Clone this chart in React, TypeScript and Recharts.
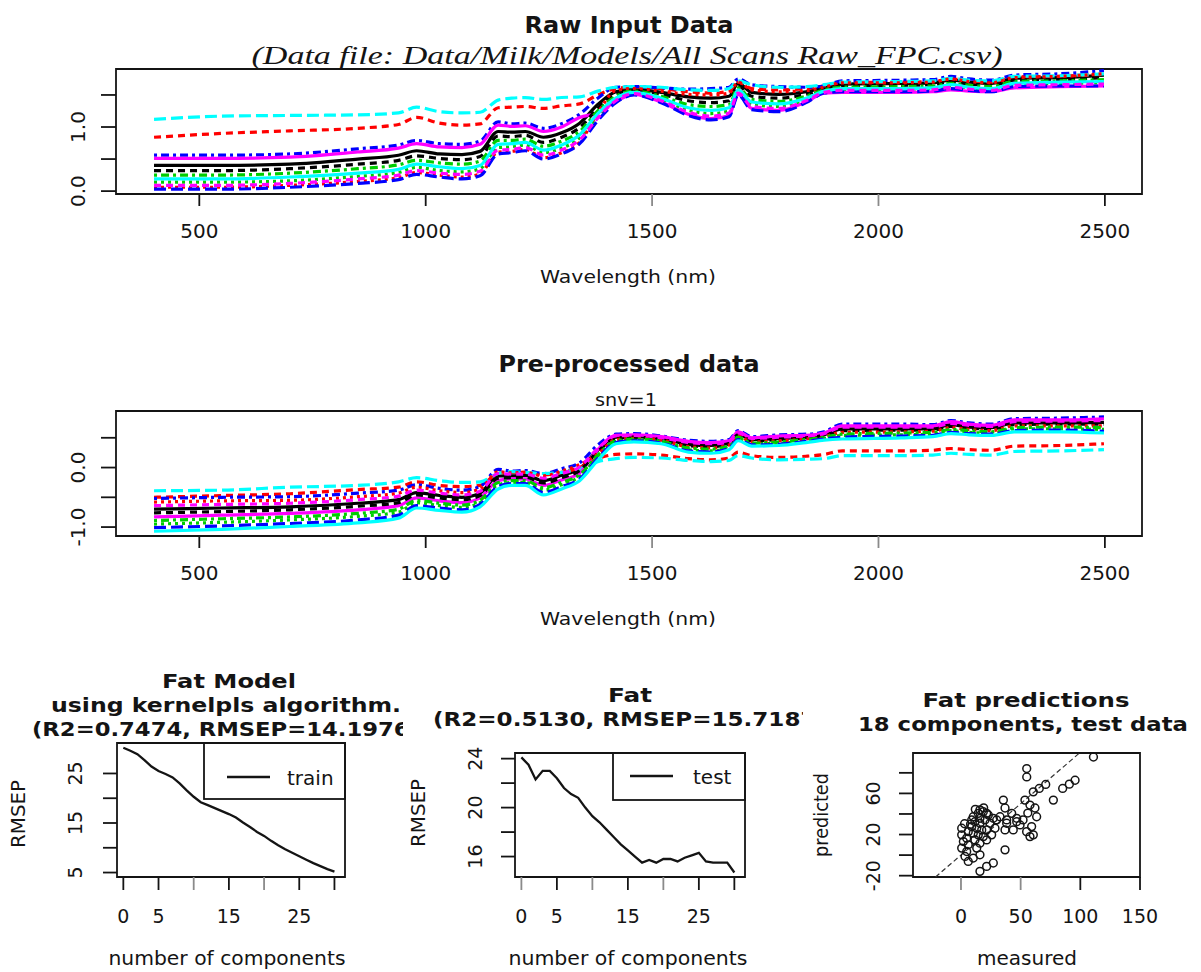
import React from "react";
import {
  LineChart,
  Line,
  XAxis,
  YAxis,
  ReferenceArea,
  ReferenceLine,
  ScatterChart,
  Scatter,
} from "recharts";

// wavelength grid (nm) shared by both spectra panels
const wavelengths = [
  400, 550, 700, 850, 940, 980, 1030, 1080, 1120, 1160, 1190, 1220, 1260, 1300, 1340, 1380, 1420, 1460,
  1520, 1580, 1630, 1670, 1690, 1720, 1780, 1840, 1880, 1920, 2050, 2120, 2160, 2200, 2250, 2300, 2400, 2498,
];
const wavelengthTicks = [500, 1000, 1500, 2000, 2500];

// raw scans
const rawS1 = [0.40, 0.40, 0.42, 0.50, 0.56, 0.63, 0.58, 0.57, 0.62, 0.93, 0.92, 0.93, 0.84, 0.91, 1.06, 1.35, 1.55, 1.59, 1.54, 1.47, 1.45, 1.48, 1.68, 1.54, 1.51, 1.55, 1.61, 1.67, 1.68, 1.69, 1.73, 1.70, 1.68, 1.76, 1.77, 1.81];
const rawS2 = [0.84, 0.90, 0.94, 0.98, 1.04, 1.15, 1.06, 1.03, 1.05, 1.30, 1.31, 1.32, 1.29, 1.33, 1.36, 1.50, 1.60, 1.62, 1.60, 1.55, 1.53, 1.56, 1.70, 1.60, 1.58, 1.60, 1.64, 1.69, 1.70, 1.71, 1.75, 1.72, 1.70, 1.78, 1.79, 1.82];
const rawS3 = [0.14, 0.14, 0.16, 0.23, 0.29, 0.37, 0.32, 0.30, 0.35, 0.68, 0.69, 0.72, 0.60, 0.67, 0.83, 1.17, 1.43, 1.53, 1.43, 1.26, 1.21, 1.25, 1.55, 1.35, 1.32, 1.43, 1.55, 1.58, 1.59, 1.60, 1.64, 1.61, 1.59, 1.67, 1.68, 1.69];
const rawS4 = [0.56, 0.56, 0.58, 0.66, 0.72, 0.79, 0.74, 0.73, 0.78, 1.08, 1.05, 1.06, 0.98, 1.05, 1.20, 1.45, 1.62, 1.63, 1.61, 1.59, 1.60, 1.62, 1.75, 1.66, 1.63, 1.62, 1.64, 1.72, 1.73, 1.74, 1.79, 1.75, 1.73, 1.81, 1.83, 1.88];
const rawS5 = [1.12, 1.17, 1.18, 1.19, 1.22, 1.31, 1.24, 1.22, 1.23, 1.42, 1.45, 1.46, 1.43, 1.46, 1.47, 1.56, 1.62, 1.63, 1.62, 1.58, 1.57, 1.60, 1.72, 1.66, 1.62, 1.63, 1.66, 1.70, 1.71, 1.72, 1.76, 1.73, 1.72, 1.79, 1.80, 1.83];
const rawS6 = [0.51, 0.51, 0.53, 0.61, 0.67, 0.74, 0.69, 0.68, 0.73, 1.03, 1.01, 1.02, 0.93, 1.00, 1.15, 1.22, 1.40, 1.51, 1.39, 1.20, 1.13, 1.18, 1.51, 1.29, 1.26, 1.39, 1.53, 1.54, 1.54, 1.55, 1.58, 1.56, 1.55, 1.61, 1.63, 1.64];
const rawS7 = [0.32, 0.32, 0.35, 0.42, 0.48, 0.55, 0.51, 0.49, 0.54, 0.86, 0.85, 0.87, 0.76, 0.84, 0.99, 1.29, 1.51, 1.57, 1.51, 1.41, 1.38, 1.41, 1.64, 1.48, 1.45, 1.51, 1.59, 1.64, 1.65, 1.66, 1.70, 1.67, 1.65, 1.73, 1.74, 1.77];
const rawS8 = [0.06, 0.06, 0.09, 0.15, 0.21, 0.29, 0.25, 0.22, 0.27, 0.61, 0.62, 0.65, 0.52, 0.60, 0.76, 1.22, 1.57, 1.60, 1.56, 1.51, 1.50, 1.53, 1.70, 1.58, 1.55, 1.57, 1.62, 1.69, 1.69, 1.70, 1.75, 1.71, 1.69, 1.77, 1.79, 1.83];
const rawS9 = [0.25, 0.25, 0.28, 0.35, 0.41, 0.48, 0.44, 0.42, 0.47, 0.79, 0.79, 0.81, 0.70, 0.78, 0.93, 1.25, 1.48, 1.56, 1.48, 1.35, 1.32, 1.35, 1.61, 1.43, 1.40, 1.48, 1.58, 1.62, 1.63, 1.64, 1.68, 1.65, 1.63, 1.71, 1.72, 1.74];
const rawS10 = [0.03, 0.03, 0.06, 0.12, 0.18, 0.26, 0.22, 0.19, 0.24, 0.58, 0.60, 0.63, 0.50, 0.58, 0.74, 1.10, 1.38, 1.50, 1.38, 1.18, 1.11, 1.16, 1.50, 1.27, 1.24, 1.38, 1.53, 1.55, 1.55, 1.56, 1.60, 1.57, 1.55, 1.63, 1.64, 1.64];
const rawS11 = [0.19, 0.19, 0.22, 0.28, 0.34, 0.42, 0.38, 0.35, 0.40, 0.73, 0.74, 0.76, 0.64, 0.72, 0.88, 1.21, 1.45, 1.54, 1.45, 1.30, 1.26, 1.30, 1.58, 1.39, 1.36, 1.45, 1.56, 1.60, 1.60, 1.61, 1.66, 1.62, 1.60, 1.68, 1.70, 1.71];
const rawS12 = [0.09, 0.09, 0.12, 0.19, 0.25, 0.32, 0.28, 0.26, 0.31, 0.64, 0.65, 0.68, 0.56, 0.64, 0.80, 1.14, 1.41, 1.52, 1.41, 1.23, 1.17, 1.22, 1.53, 1.32, 1.29, 1.41, 1.54, 1.57, 1.57, 1.58, 1.62, 1.59, 1.57, 1.65, 1.66, 1.67];

// the same scans after snv
const snvS1 = [-0.70, -0.68, -0.66, -0.60, -0.54, -0.42, -0.47, -0.50, -0.43, -0.14, -0.14, -0.13, -0.22, -0.13, -0.02, 0.29, 0.51, 0.52, 0.49, 0.39, 0.37, 0.41, 0.56, 0.47, 0.49, 0.51, 0.55, 0.65, 0.65, 0.65, 0.72, 0.68, 0.67, 0.75, 0.75, 0.76];
const snvS2 = [-0.50, -0.47, -0.44, -0.37, -0.33, -0.24, -0.30, -0.32, -0.30, -0.10, -0.08, -0.08, -0.12, -0.08, 0.00, 0.15, 0.22, 0.23, 0.21, 0.15, 0.13, 0.16, 0.26, 0.20, 0.17, 0.19, 0.22, 0.28, 0.28, 0.29, 0.32, 0.30, 0.29, 0.36, 0.37, 0.40];
const snvS3 = [-0.95, -0.92, -0.88, -0.82, -0.75, -0.59, -0.64, -0.67, -0.59, -0.29, -0.25, -0.25, -0.38, -0.29, -0.15, 0.18, 0.44, 0.46, 0.43, 0.30, 0.28, 0.34, 0.49, 0.40, 0.41, 0.45, 0.49, 0.54, 0.55, 0.56, 0.62, 0.59, 0.58, 0.65, 0.65, 0.64];
const snvS4 = [-0.52, -0.50, -0.49, -0.43, -0.38, -0.29, -0.35, -0.38, -0.32, -0.03, -0.06, -0.05, -0.10, -0.02, 0.08, 0.38, 0.56, 0.57, 0.53, 0.46, 0.44, 0.47, 0.62, 0.52, 0.55, 0.56, 0.60, 0.73, 0.73, 0.72, 0.79, 0.75, 0.73, 0.82, 0.83, 0.85];
const snvS5 = [-0.39, -0.38, -0.33, -0.30, -0.24, -0.17, -0.22, -0.25, -0.24, -0.10, -0.07, -0.08, -0.10, -0.08, -0.02, 0.10, 0.15, 0.17, 0.16, 0.12, 0.10, 0.12, 0.20, 0.16, 0.13, 0.14, 0.15, 0.20, 0.20, 0.21, 0.24, 0.22, 0.21, 0.27, 0.28, 0.30];
const snvS6 = [-0.83, -0.80, -0.77, -0.71, -0.64, -0.51, -0.56, -0.59, -0.51, -0.22, -0.19, -0.19, -0.30, -0.21, -0.09, 0.30, 0.54, 0.55, 0.52, 0.44, 0.42, 0.45, 0.60, 0.50, 0.53, 0.54, 0.58, 0.70, 0.70, 0.70, 0.77, 0.73, 0.71, 0.80, 0.80, 0.82];
const snvS7 = [-0.76, -0.74, -0.71, -0.65, -0.59, -0.46, -0.51, -0.54, -0.47, -0.18, -0.17, -0.16, -0.26, -0.17, -0.05, 0.27, 0.49, 0.51, 0.47, 0.37, 0.35, 0.40, 0.55, 0.45, 0.47, 0.50, 0.54, 0.62, 0.63, 0.63, 0.69, 0.66, 0.65, 0.72, 0.73, 0.73];
const snvS8 = [-0.58, -0.56, -0.55, -0.49, -0.43, -0.33, -0.39, -0.42, -0.36, -0.07, -0.09, -0.08, -0.14, -0.06, 0.05, 0.23, 0.47, 0.49, 0.46, 0.35, 0.33, 0.38, 0.53, 0.43, 0.45, 0.48, 0.52, 0.59, 0.60, 0.61, 0.67, 0.64, 0.62, 0.70, 0.70, 0.70];
const snvS9 = [-0.89, -0.86, -0.83, -0.77, -0.70, -0.55, -0.60, -0.63, -0.55, -0.25, -0.22, -0.22, -0.34, -0.25, -0.12, 0.21, 0.45, 0.48, 0.44, 0.33, 0.31, 0.36, 0.51, 0.41, 0.43, 0.47, 0.51, 0.56, 0.58, 0.59, 0.64, 0.62, 0.60, 0.67, 0.68, 0.67];
const snvS10 = [-1.01, -0.98, -0.94, -0.88, -0.80, -0.64, -0.68, -0.71, -0.62, -0.32, -0.27, -0.27, -0.42, -0.32, -0.19, 0.15, 0.42, 0.45, 0.41, 0.28, 0.26, 0.32, 0.47, 0.38, 0.39, 0.44, 0.48, 0.51, 0.53, 0.54, 0.59, 0.57, 0.56, 0.62, 0.63, 0.61];
const snvS11 = [-1.07, -1.04, -0.99, -0.93, -0.85, -0.68, -0.72, -0.75, -0.66, -0.36, -0.30, -0.30, -0.46, -0.36, -0.22, 0.12, 0.40, 0.43, 0.40, 0.26, 0.24, 0.30, 0.45, 0.36, 0.37, 0.42, 0.46, 0.48, 0.50, 0.52, 0.57, 0.55, 0.54, 0.60, 0.60, 0.58];
const snvS12 = [-0.64, -0.62, -0.60, -0.54, -0.48, -0.38, -0.43, -0.46, -0.40, -0.10, -0.11, -0.11, -0.18, -0.10, 0.01, 0.32, 0.53, 0.54, 0.50, 0.42, 0.40, 0.43, 0.58, 0.49, 0.51, 0.53, 0.57, 0.68, 0.68, 0.68, 0.74, 0.71, 0.69, 0.77, 0.78, 0.79];

// RMSEP against number of components
const components = [0, 1, 2, 3, 4, 5, 6, 7, 8, 9, 10, 11, 12, 13, 14, 15, 16, 17, 18, 19, 20, 21, 22, 23, 24, 25, 26, 27, 28, 29, 30];
const trainRmsep = [30.2, 29.6, 28.9, 27.7, 26.4, 25.5, 24.9, 24.2, 23.0, 21.6, 20.3, 19.2, 18.6, 18.0, 17.4, 16.8, 16.1, 15.1, 14.2, 13.2, 12.4, 11.4, 10.5, 9.7, 9.0, 8.3, 7.6, 6.9, 6.3, 5.7, 5.2];
const testRmsep = [24.1, 23.5, 22.3, 23.0, 23.0, 22.4, 21.6, 21.1, 20.8, 20.0, 19.3, 18.8, 18.2, 17.6, 17.0, 16.5, 16.0, 15.5, 15.72, 15.5, 15.8, 15.8, 15.6, 15.9, 16.1, 16.3, 15.6, 15.5, 15.5, 15.5, 14.7];

// test-set predictions with 18 components
const measured = [
  55.1, 55.1, 77.4, 85.2, 90.8, 95.6, 60.6, 65.6, 71.0, 111.0, 53.6, 57.8, 62.0, 56.0, 63.4, 52.0, 59.2, 55.0, 60.6, 35.5,
  36.9, 42.5, 46.7, 38.3, 49.5, 43.8, 36.9, 36.9, 15.9, 21.5, 27.1, 6.1, 10.3, 15.9, 3.4, 0.6, 0.6, 2.0, 0.6, 4.8,
  6.1, 4.8, 6.1, 10.3, 14.5, 18.7, 22.9, 27.1, 11.7, 15.9, 20.1, 24.3, 9.0, 13.2, 17.4, 21.5, 10.3, 14.5, 18.7, 11.7,
  15.9, 21.5, 13.2, 9.0, 15.9, 29.9, 28.5, 25.7, 32.7, 46.7, 57.8, 38.3, 21.5, 15.9, 8.0, 3.0, 12.0, 19.0,
];
const predicted = [
  84.2, 76.0, 53.5, 64.8, 69.0, 72.8, 61.5, 64.8, 68.7, 95.4, 53.5, 48.7, 45.8, 40.9, 37.3, 34.2, 27.7, 22.8, 19.7, 53.5,
  45.8, 40.6, 35.8, 31.0, 29.3, 24.5, 24.5, 5.1, -15.8, -11.0, -7.7, -6.2, -2.9, 0.3, -1.3, 26.1, 19.7, 13.2, 6.8, 3.5,
  10.0, 16.5, 22.8, 37.3, 40.6, 42.2, 39.0, 35.8, 32.5, 31.0, 34.2, 31.0, 27.7, 26.1, 24.5, 24.5, 21.3, 19.7, 18.0, 14.8,
  11.6, 14.8, 6.8, 34.2, 35.8, 34.2, 26.1, 19.7, 37.3, 32.5, 18.0, 34.2, 40.6, 44.0, 30.0, 30.5, 44.5, 46.0,
];

const SANS = "'DejaVu Sans', sans-serif";
const SERIF = "'Liberation Serif', serif";
const INK = "#141414";
// R's default palette and matplot line types
const palette = ["#000000", "#FF0000", "#00CD00", "#0000FF", "#00FFFF", "#FF00FF"];
const dashes = [undefined, "7 5", "3 4", "3 4 8 4", "12 5"];

type XTickOpts = { base: number; len: number; baseline: number; size: number; shown: number[]; faint?: number[]; fmt?: (v: number) => string };
type YTickOpts = { edge: number; len: number; baseline: number; size: number; shown: number[]; fmt?: (v: number) => string };

const xTick = (o: XTickOpts) => (p: any) => {
  const v = p.payload.value as number;
  return (
    <g>
      <line x1={p.x} x2={p.x} y1={o.base} y2={o.base + o.len} stroke={o.faint?.includes(v) ? "#8a8a8a" : INK} strokeWidth={1.8} />
      {o.shown.includes(v) && (
        <text x={p.x} y={o.baseline} textAnchor="middle" fontSize={o.size} fontFamily={SANS} fill={INK}>
          {o.fmt ? o.fmt(v) : String(v)}
        </text>
      )}
    </g>
  );
};

const yTick = (o: YTickOpts) => (p: any) => {
  const v = p.payload.value as number;
  return (
    <g>
      <line x1={o.edge - o.len} x2={o.edge} y1={p.y} y2={p.y} stroke={INK} strokeWidth={1.8} />
      {o.shown.includes(v) && (
        <text x={o.baseline} y={p.y} transform={`rotate(-90 ${o.baseline} ${p.y})`} textAnchor="middle" fontSize={o.size} fontFamily={SANS} fill={INK}>
          {o.fmt ? o.fmt(v) : String(v)}
        </text>
      )}
    </g>
  );
};

function SpectraPanel(props: { top: number; plotTop: number; series: number[][]; yDomain: [number, number]; yTicks: number[]; yShown: number[] }) {
  const { top, plotTop, series, yDomain, yTicks, yShown } = props;
  const rows = wavelengths.map((wl, i) => {
    const row: Record<string, number> = { wl };
    series.forEach((s, k) => (row[`s${k}`] = s[i]));
    return row;
  });
  const plotBottom = plotTop + 125;
  return (
    <div style={{ position: "absolute", left: 0, top }}>
      <LineChart width={1201} height={300} data={rows} margin={{ top: plotTop, right: 59, bottom: 0, left: 0 }}>
        <XAxis
          dataKey="wl"
          type="number"
          domain={[316, 2582]}
          ticks={wavelengthTicks}
          interval={0}
          allowDataOverflow
          height={300 - plotBottom}
          axisLine={false}
          tickLine={false}
          tick={xTick({ base: plotBottom, len: 12, baseline: plotBottom + 44, size: 20, shown: wavelengthTicks, faint: [1500, 2000] })}
        />
        <YAxis
          type="number"
          domain={yDomain}
          ticks={yTicks}
          interval={0}
          allowDataOverflow
          width={116}
          axisLine={false}
          tickLine={false}
          tick={yTick({ edge: 116, len: 15, baseline: 85, size: 20, shown: yShown, fmt: (v) => v.toFixed(1) })}
        />
        <ReferenceArea x1={316} x2={2582} y1={yDomain[0]} y2={yDomain[1]} fill="none" stroke={INK} strokeWidth={1.8} ifOverflow="visible" />
        {series.map((_, k) => (
          <Line
            key={k}
            dataKey={`s${k}`}
            type="monotone"
            stroke={palette[k % 6]}
            strokeWidth={3.2}
            strokeDasharray={dashes[k % 5]}
            dot={false}
            activeDot={false}
            isAnimationActive={false}
          />
        ))}
      </LineChart>
    </div>
  );
}

const componentTicks = [0, 5, 10, 15, 20, 25, 30];

function RmsepPanel(props: {
  left: number; plotTop: number; plotLeft: number; values: number[]; yDomain: [number, number];
  yTicks: number[]; yShown: number[]; faintX: number[];
}) {
  const { left, plotTop, plotLeft, values, yDomain, yTicks, yShown, faintX } = props;
  const rows = components.map((c, i) => ({ c, rmsep: values[i] }));
  return (
    <div style={{ position: "absolute", left, top: 640 }}>
      <LineChart width={400} height={332} data={rows} margin={{ top: plotTop, right: 55, bottom: 0, left: 0 }}>
        <XAxis
          dataKey="c"
          type="number"
          domain={[-0.9, 31.5]}
          ticks={componentTicks}
          interval={0}
          allowDataOverflow
          height={95}
          axisLine={false}
          tickLine={false}
          tick={xTick({ base: 237, len: 13, baseline: 283, size: 19, shown: [0, 5, 15, 25], faint: faintX })}
        />
        <YAxis
          type="number"
          domain={yDomain}
          ticks={yTicks}
          interval={0}
          allowDataOverflow
          width={plotLeft}
          axisLine={false}
          tickLine={false}
          tick={yTick({ edge: plotLeft, len: 14, baseline: 82, size: 19, shown: yShown })}
        />
        <ReferenceArea x1={-0.9} x2={31.5} y1={yDomain[0]} y2={yDomain[1]} fill="none" stroke={INK} strokeWidth={1.8} ifOverflow="visible" />
        <Line dataKey="rmsep" type="linear" stroke={INK} strokeWidth={2.3} dot={false} activeDot={false} isAnimationActive={false} />
      </LineChart>
    </div>
  );
}

function PredictionPanel() {
  const rows = measured.map((m, i) => ({ measured: m, predicted: predicted[i] }));
  return (
    <div style={{ position: "absolute", left: 800, top: 640 }}>
      <ScatterChart width={401} height={332} margin={{ top: 113, right: 61, bottom: 0, left: 0 }}>
        <XAxis
          dataKey="measured"
          type="number"
          domain={[-40.2, 150]}
          ticks={[0, 50, 100, 150]}
          interval={0}
          allowDataOverflow
          height={95}
          axisLine={false}
          tickLine={false}
          tick={xTick({ base: 237, len: 13, baseline: 283, size: 19, shown: [0, 50, 100, 150], faint: [0, 50] })}
        />
        <YAxis
          dataKey="predicted"
          type="number"
          domain={[-21.3, 99.3]}
          ticks={[-20, 0, 20, 40, 60, 80]}
          interval={0}
          allowDataOverflow
          width={113}
          axisLine={false}
          tickLine={false}
          tick={yTick({ edge: 113, len: 14, baseline: 80, size: 19, shown: [-20, 20, 60] })}
        />
        <ReferenceArea x1={-40.2} x2={150} y1={-21.3} y2={99.3} fill="none" stroke={INK} strokeWidth={1.8} ifOverflow="visible" />
        <ReferenceLine
          segment={[{ x: -21.3, y: -21.3 }, { x: 99.3, y: 99.3 }]}
          stroke="#333"
          strokeWidth={1.2}
          strokeDasharray="5 3"
          ifOverflow="visible"
        />
        <Scatter
          data={rows}
          isAnimationActive={false}
          shape={(p: any) => <circle cx={p.cx} cy={p.cy} r={3.9} fill="none" stroke={INK} strokeWidth={1.5} />}
        />
      </ScatterChart>
    </div>
  );
}

function Txt(props: {
  x: number; y: number; size: number; len?: number; bold?: boolean; italic?: boolean;
  serif?: boolean; rotate?: boolean; clip?: string; children: React.ReactNode;
}) {
  const { x, y, size, len, bold, italic, serif, rotate, clip, children } = props;
  return (
    <text
      x={x}
      y={y}
      textAnchor="middle"
      fontSize={size}
      fontFamily={serif ? SERIF : SANS}
      fontWeight={bold ? "bold" : "normal"}
      fontStyle={italic ? "italic" : "normal"}
      fill={INK}
      textLength={len}
      lengthAdjust={len ? "spacingAndGlyphs" : undefined}
      transform={rotate ? `rotate(-90 ${x} ${y})` : undefined}
      clipPath={clip ? `url(#${clip})` : undefined}
    >
      {children}
    </text>
  );
}

function Annotations() {
  return (
    <svg width={1201} height={972} style={{ position: "absolute", left: 0, top: 0, pointerEvents: "none" }}>
      <defs>
        <clipPath id="figLeft">
          <rect x={0} y={0} width={403} height={972} />
        </clipPath>
        <clipPath id="figMid">
          <rect x={403} y={0} width={400} height={972} />
        </clipPath>
      </defs>

      <Txt x={629} y={33} size={23} bold len={209}>Raw Input Data</Txt>
      <Txt x={627} y={64} size={26} serif italic len={751}>(Data file: Data/Milk/Models/All Scans Raw_FPC.csv)</Txt>
      <Txt x={628} y={283} size={18} len={176}>Wavelength (nm)</Txt>

      <Txt x={629} y={372} size={23} bold len={261}>Pre-processed data</Txt>
      <Txt x={626} y={406} size={17} len={62}>snv=1</Txt>
      <Txt x={628} y={625} size={18} len={176}>Wavelength (nm)</Txt>

      <Txt x={229} y={688} size={20} bold len={134} clip="figLeft">Fat Model</Txt>
      <Txt x={226} y={712} size={20} bold len={350} clip="figLeft">using kernelpls algorithm.</Txt>
      <Txt x={226} y={736} size={20} bold len={388} clip="figLeft">(R2=0.7474, RMSEP=14.1976)</Txt>
      <Txt x={25} y={814} size={20} rotate len={68}>RMSEP</Txt>
      <Txt x={227} y={965} size={20} len={237}>number of components</Txt>

      <Txt x={630} y={702} size={20} bold len={44} clip="figMid">Fat</Txt>
      <Txt x={630} y={726} size={20} bold len={394} clip="figMid">(R2=0.5130, RMSEP=15.7187)</Txt>
      <Txt x={425} y={813} size={20} rotate len={68}>RMSEP</Txt>
      <Txt x={628} y={965} size={20} len={239}>number of components</Txt>

      <Txt x={1026} y={707} size={20} bold len={207}>Fat predictions</Txt>
      <Txt x={1023} y={731} size={20} bold len={330}>18 components, test data</Txt>
      <Txt x={828} y={815} size={19} rotate len={84}>predicted</Txt>
      <Txt x={1027} y={965} size={20} len={100}>measured</Txt>

      {/* legends */}
      <rect x={204} y={743} width={141} height={56} fill="none" stroke={INK} strokeWidth={1.8} />
      <line x1={227} x2={270} y1={777} y2={777} stroke={INK} strokeWidth={2.3} />
      <text x={287} y={785} fontSize={20} fontFamily={SANS} fill={INK}>train</text>

      <rect x={613} y={753} width={132} height={47} fill="none" stroke={INK} strokeWidth={1.8} />
      <line x1={630} x2={673} y1={776} y2={776} stroke={INK} strokeWidth={2.3} />
      <text x={693} y={784} fontSize={20} fontFamily={SANS} fill={INK}>test</text>
    </svg>
  );
}

export default function App() {
  const rawSeries = [rawS1, rawS2, rawS3, rawS4, rawS5, rawS6, rawS7, rawS8, rawS9, rawS10, rawS11, rawS12];
  const snvSeries = [snvS1, snvS2, snvS3, snvS4, snvS5, snvS6, snvS7, snvS8, snvS9, snvS10, snvS11, snvS12];
  return (
    <div style={{ position: "absolute", left: 0, top: 0, width: 1201, height: 972, background: "#fff", overflow: "hidden", fontFamily: SANS }}>
      <SpectraPanel top={0} plotTop={69} series={rawSeries} yDomain={[-0.045, 1.905]} yTicks={[0, 0.5, 1, 1.5]} yShown={[0, 1]} />
      <SpectraPanel top={340} plotTop={71} series={snvSeries} yDomain={[-1.15, 0.95]} yTicks={[-1, -0.5, 0, 0.5]} yShown={[-1, 0]} />
      <RmsepPanel left={0} plotTop={103} plotLeft={117} values={trainRmsep} yDomain={[4.1, 31.15]} yTicks={[5, 10, 15, 20, 25]} yShown={[5, 15, 25]} faintX={[10, 20]} />
      <RmsepPanel left={400} plotTop={113} plotLeft={115} values={testRmsep} yDomain={[14.33, 24.46]} yTicks={[16, 18, 20, 22, 24]} yShown={[16, 20, 24]} faintX={[0, 10, 20]} />
      <PredictionPanel />
      <Annotations />
    </div>
  );
}
